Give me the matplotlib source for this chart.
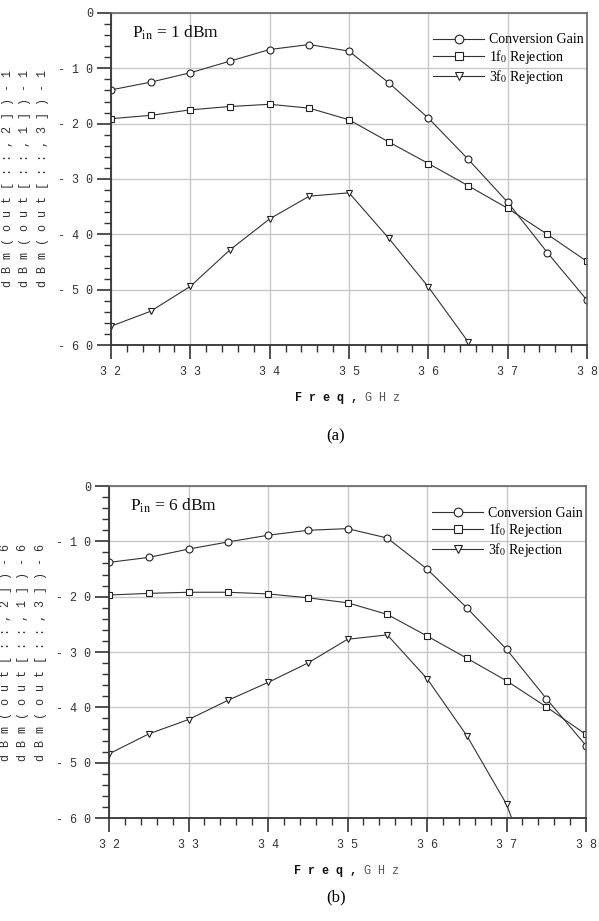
import matplotlib
matplotlib.use("Agg")
import matplotlib.pyplot as plt
from matplotlib.ticker import MultipleLocator, FixedLocator, FixedFormatter

plt.rcParams["mathtext.fontset"] = "stix"

freq = [32, 32.5, 33, 33.5, 34, 34.5, 35, 35.5, 36, 36.5, 37, 37.5, 38]

# (a) Pin = 1 dBm
gain_a = [-13.9, -12.5, -10.8, -8.7, -6.6, -5.7, -6.9, -12.6, -19.0, -26.4, -34.2, -43.3, -51.9]
rej1_a = [-19.1, -18.5, -17.5, -16.9, -16.5, -17.2, -19.3, -23.3, -27.2, -31.2, -35.3, -40.0, -44.9]
freq3_a = [32, 32.5, 33, 33.5, 34, 34.5, 35, 35.5, 36, 36.5, 37]
rej3_a = [-56.6, -53.9, -49.4, -42.8, -37.2, -33.1, -32.5, -40.7, -49.5, -59.4, -72.0]

# (b) Pin = 6 dBm
gain_b = [-13.8, -12.9, -11.4, -10.1, -8.9, -8.0, -7.7, -9.4, -15.0, -22.0, -29.5, -38.4, -46.9]
rej1_b = [-19.7, -19.4, -19.2, -19.2, -19.5, -20.2, -21.1, -23.2, -27.1, -31.1, -35.2, -39.9, -44.9]
freq3_b = [32, 32.5, 33, 33.5, 34, 34.5, 35, 35.5, 36, 36.5, 37, 37.5]
rej3_b = [-48.4, -44.8, -42.2, -38.7, -35.5, -32.0, -27.7, -26.9, -34.8, -45.1, -57.5, -77.0]

xticks = [32, 33, 34, 35, 36, 37, 38]
xticklabels = ["3 2", "3 3", "3 4", "3 5", "3 6", "3 7", "3 8"]
yticks = [0, -10, -20, -30, -40, -50, -60]
yticklabels = ["0", "- 1 0", "- 2 0", "- 3 0", "- 4 0", "- 5 0", "- 6 0"]
legend_labels = ["Conversion Gain", r"1f$_0$ Rejection", r"3f$_0$ Rejection"]

panels = [
    dict(pin="1", gain=gain_a, rej1=rej1_a, f3=freq3_a, rej3=rej3_a,
         rect=[0.1853, 0.6254, 0.7947, 0.3605], cap="(a)", capy=0.526, off="1"),
    dict(pin="6", gain=gain_b, rej1=rej1_b, f3=freq3_b, rej3=rej3_b,
         rect=[0.182, 0.1118, 0.7963, 0.3605], cap="(b)", capy=0.026, off="6"),
]

fig = plt.figure(figsize=(5.99, 9.21), dpi=100)
serif = ["Liberation Serif", "DejaVu Serif"]
mono = ["Liberation Mono", "DejaVu Sans Mono"]
lc = "#333333"

for p in panels:
    ax = fig.add_axes(p["rect"])
    kw = dict(color=lc, lw=0.8, mfc="white", mec="#222222", mew=0.8)
    l1, = ax.plot(freq, p["gain"], marker="o", ms=5, **kw)
    l2, = ax.plot(freq, p["rej1"], marker="s", ms=5, **kw)
    l3, = ax.plot(p["f3"], p["rej3"], marker="v", ms=5, **kw)
    ax.set_xlim(32, 38)
    ax.set_ylim(-60, 0)
    ax.xaxis.set_major_locator(FixedLocator(xticks))
    ax.xaxis.set_major_formatter(FixedFormatter(xticklabels))
    ax.yaxis.set_major_locator(FixedLocator(yticks))
    ax.yaxis.set_major_formatter(FixedFormatter(yticklabels))
    ax.xaxis.set_minor_locator(MultipleLocator(0.2))
    ax.yaxis.set_minor_locator(MultipleLocator(2))
    ax.tick_params(which="major", direction="out", length=10, width=1.2, color="#333333",
                   labelsize=8.5, labelcolor="#333333")
    ax.tick_params(axis="y", which="major", pad=3)
    ax.tick_params(axis="x", which="major", pad=5)
    ax.tick_params(which="minor", direction="out", length=5, width=1.0, color="#333333")
    for lab in ax.get_xticklabels() + ax.get_yticklabels():
        lab.set_family(mono)
    ax.grid(True, which="major", color="#c8c8c8", lw=1.0)
    ax.set_axisbelow(True)
    for s in ("left", "bottom"):
        ax.spines[s].set_color("#333333")
        ax.spines[s].set_linewidth(1.3)
    for s in ("top", "right"):
        ax.spines[s].set_color("#666666")
        ax.spines[s].set_linewidth(1.2)

    ax.text(0.045, 0.94, r"P$_{\rm in}$ = " + p["pin"] + " dBm", transform=ax.transAxes,
            fontsize=12.5, family=serif, color="#111111", va="center")
    ax.legend([l1, l2, l3], legend_labels, loc="upper right", frameon=False,
              bbox_to_anchor=(1.005, 0.955),
              prop=dict(family=serif, size=10), handlelength=3.7, handletextpad=0.35,
              labelspacing=0.12, borderaxespad=0.0, markerscale=1.25)

    ylab = "\n".join("d B m ( o u t [ : : , %s ] ) - %s" % (k, p["off"]) for k in ("2", "1", "3"))
    ax.text(-0.18, 0.5, ylab, transform=ax.transAxes, rotation=90, ha="center", va="center",
            family=mono, fontsize=8.5, color="#333333", linespacing=1.6)
    ax.text(0.534, -0.16, "F r e q , ", transform=ax.transAxes, ha="right", va="center",
            family=mono, fontsize=8.5, fontweight="bold", color="#111111")
    ax.text(0.534, -0.16, "G H z", transform=ax.transAxes, ha="left", va="center",
            family=mono, fontsize=8.5, color="#555555")
    fig.text(0.561, p["capy"], p["cap"], ha="center", va="center", family=serif, fontsize=12)

fig.savefig("out.png", dpi=100)
